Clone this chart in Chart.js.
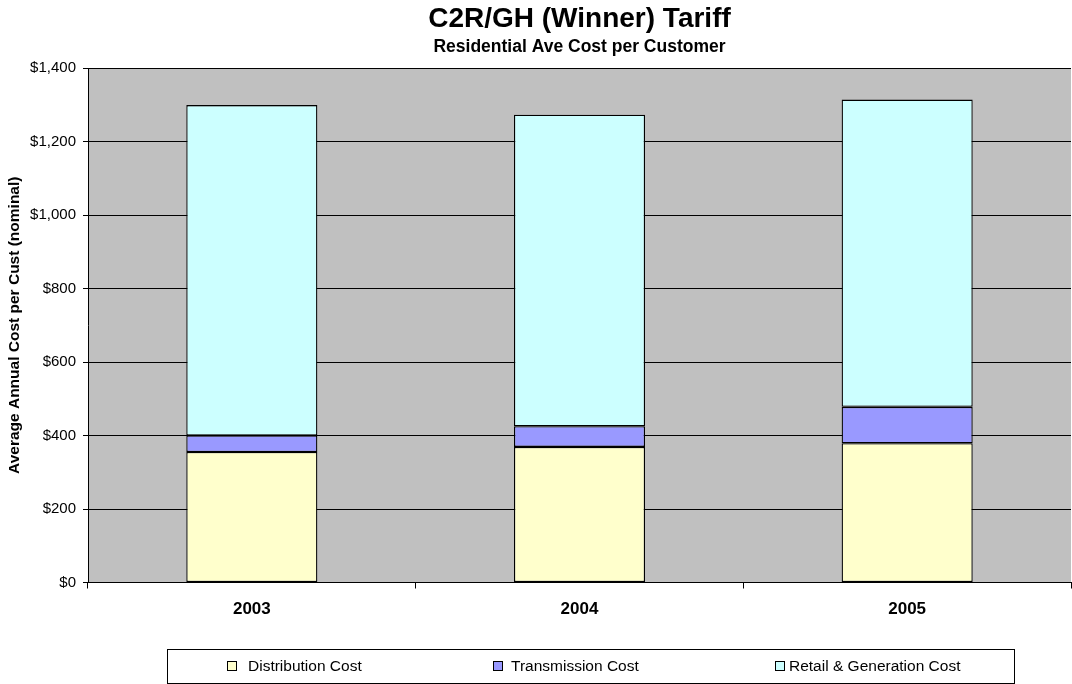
<!DOCTYPE html>
<html><head><meta charset="utf-8">
<script src="https://cdn.jsdelivr.net/npm/chart.js@4.4.1/dist/chart.umd.min.js"></script>
<style>
html,body{margin:0;padding:0;background:#fff;}
#wrap{position:relative;width:1072px;height:684px;}
#legend{position:absolute;left:167px;top:649px;width:848px;height:35px;border:1px solid #000;box-sizing:border-box;font-family:"Liberation Sans",Arial,sans-serif;font-size:15.5px;color:#000;}
.sw{position:absolute;top:11px;width:8px;height:8px;border:1px solid #000;}
.tx{position:absolute;top:6px;white-space:nowrap;line-height:20px;}
</style></head>
<body><div id="wrap"><canvas id="c" width="1072" height="684"></canvas><div id="legend"></div></div>
<script>
const categories = ['2003', '2004', '2005'];
const distribution = [355, 369, 379];
const transmission = [45, 56, 99];
const retailGeneration = [899, 848, 836];
const seriesNames = ['Distribution Cost', 'Transmission Cost', 'Retail & Generation Cost'];
const seriesColors = ['#FFFFCC', '#9999FF', '#CCFFFF'];
const yTickMax = 1400, yTickStep = 200;

const font = '"Liberation Sans", Arial, sans-serif';
const bgPlugin = {
  id: 'plotBg',
  beforeDraw(chart) {
    const {ctx, chartArea: a} = chart;
    ctx.save();
    ctx.fillStyle = '#C0C0C0';
    ctx.fillRect(a.left, a.top, a.right - a.left, a.bottom - a.top);
    ctx.restore();
  }
};
const seriesData = [distribution, transmission, retailGeneration];
const chart = new Chart(document.getElementById('c'), {
  type: 'bar',
  data: {
    labels: categories,
    datasets: seriesData.map((d, i) => ({
      label: seriesNames[i], data: d, backgroundColor: seriesColors[i],
      borderColor: '#000', borderWidth: 1.3, borderSkipped: false,
      barPercentage: 0.4, categoryPercentage: 1
    }))
  },
  options: {
    responsive: false, animation: false, devicePixelRatio: 1,
    layout: {padding: {left: 0, right: 1, top: 0, bottom: 0}},
    plugins: {
      legend: {display: false}, tooltip: {enabled: false},
      title: {display: true, fullSize: false, text: 'C2R/GH (Winner) Tariff', color: '#000',
        font: {family: font, size: 28, weight: 'bold', lineHeight: 1.0}, padding: {top: 5, bottom: 4}},
      subtitle: {display: true, fullSize: false, text: 'Residential Ave Cost per Customer', color: '#000',
        font: {family: font, size: 17.5, weight: 'bold', lineHeight: 1.2}, padding: {top: 0, bottom: 10}}
    },
    scales: {
      x: {
        stacked: true,
        grid: {display: true, drawOnChartArea: false, drawTicks: true, tickLength: 6, color: '#000', offset: true},
        border: {display: true, color: '#000', width: 1},
        ticks: {color: '#000', font: {family: font, size: 17, weight: 'bold'}, padding: 11, maxRotation: 0},
        afterFit(s) { s.height = 101.5; }
      },
      y: {
        stacked: true, min: 0, max: yTickMax,
        grid: {color: '#000', lineWidth: 1, drawTicks: true, tickLength: 5},
        border: {display: true, color: '#000', width: 1},
        ticks: {stepSize: yTickStep, color: '#000', padding: 7,
          font: {family: font, size: 15},
          callback: v => '$' + v.toLocaleString('en-US')},
        title: {display: true, text: 'Average Annual Cost per Cust (nominal)', color: '#000',
          font: {family: font, size: 15.5, weight: 'bold'}, padding: {top: 5, bottom: 0}},
        afterFit(s) { s.width = 88; }
      }
    }
  },
  plugins: [bgPlugin]
});
const lg = document.getElementById('legend');
const swX = [59, 325, 607];
const txX = [80, 343, 621];
seriesNames.forEach((n, i) => {
  const s = document.createElement('div'); s.className = 'sw';
  s.style.left = swX[i] + 'px'; s.style.background = seriesColors[i];
  const t = document.createElement('div'); t.className = 'tx';
  t.style.left = txX[i] + 'px'; t.textContent = n;
  lg.appendChild(s); lg.appendChild(t);
});
</script></body></html>
